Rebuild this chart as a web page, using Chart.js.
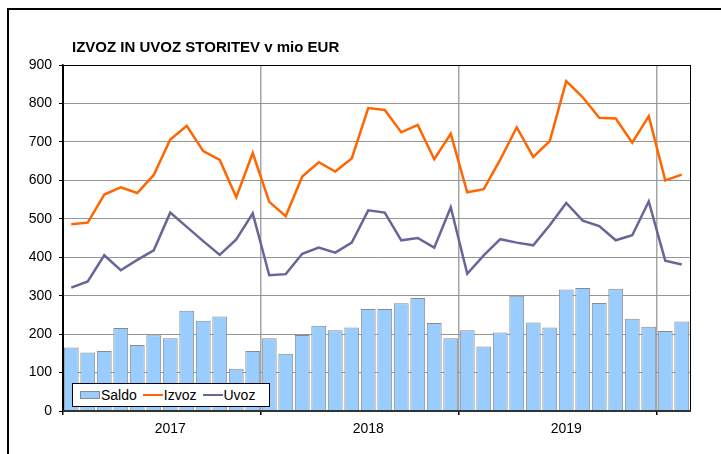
<!DOCTYPE html>
<html>
<head>
<meta charset="utf-8">
<script src="https://cdn.jsdelivr.net/npm/chart.js@4/dist/chart.umd.min.js"></script>
<style>
    body { margin: 0; background: #fff; font-family: "Liberation Sans", Arial, sans-serif; }
    #wrap { position: relative; width: 721px; height: 454px; overflow: hidden; }
    #frame { position: absolute; left: 7px; top: 8px; width: 800px; height: 600px; border: 2.5px solid #000; }
    #title { position: absolute; left: 72px; top: 38px; font-size: 15px; font-weight: bold; white-space: pre; }
    canvas { position: absolute; left: 0; top: 0; }
    #legend { position: absolute; left: 72px; top: 383px; width: 189px; height: 22px; border: 1px solid #000;
              background: #fff; display: flex; align-items: center; font-size: 14px; padding-left: 7px; box-sizing: content-box; }
    #legend .sw { display: inline-block; width: 20px; }
    #legend .tx { margin-left: 1px; margin-right: 6px; }
</style>
</head>
<body>
<div id="wrap">
    <div id="frame"></div>
    <canvas id="chart" width="721" height="454"></canvas>
    <div id="title">IZVOZ IN UVOZ STORITEV v mio EUR</div>
    <div id="legend"></div>
</div>
<script>
// month categories, Jan 2017 - Feb 2020
const months = [
    "2017-01", "2017-02", "2017-03", "2017-04", "2017-05", "2017-06",
    "2017-07", "2017-08", "2017-09", "2017-10", "2017-11", "2017-12",
    "2018-01", "2018-02", "2018-03", "2018-04", "2018-05", "2018-06",
    "2018-07", "2018-08", "2018-09", "2018-10", "2018-11", "2018-12",
    "2019-01", "2019-02", "2019-03", "2019-04", "2019-05", "2019-06",
    "2019-07", "2019-08", "2019-09", "2019-10", "2019-11", "2019-12",
    "2020-01", "2020-02"
];
const yearLabels = ["2017", "2018", "2019"];

const saldo = [165, 152, 156, 216, 172, 197, 189, 261, 235, 246, 110, 156,
               189, 149, 198, 222, 210, 217, 265, 265, 280, 294, 229, 189,
               210, 168, 204, 300, 230, 217, 316, 320, 281, 318, 240, 219,
               208, 233];
const izvoz = [486, 490, 563, 582, 567, 614, 706, 742, 676, 653, 556, 671,
               544, 507, 610, 647, 623, 657, 788, 783, 725, 744, 655, 721,
               569, 577, 654, 738, 661, 702, 858, 816, 763, 761, 698, 767,
               600, 615];
const uvoz = [321, 337, 405, 366, 393, 418, 516, 479, 442, 406, 446, 514,
              353, 356, 409, 425, 412, 438, 522, 516, 444, 450, 425, 530,
              357, 405, 447, 438, 431, 483, 541, 495, 481, 444, 457, 545,
              391, 381];

const seriesNames = ["Saldo", "Izvoz", "Uvoz"];
const yTicks = { min: 0, max: 900, step: 100 };

const font = { family: '"Liberation Sans", Arial, sans-serif', size: 14 };

// plot frame drawn over the chart area
const framePlugin = {
    id: "frame",
    afterDraw(chart) {
        const a = chart.chartArea;
        const ctx = chart.ctx;
        ctx.save();
        ctx.strokeStyle = "#000";
        ctx.lineWidth = 1;
        ctx.strokeRect(a.left + 0.5, a.top + 0.5, a.right - a.left, a.bottom - a.top);
        ctx.lineWidth = 2;
        ctx.strokeStyle = "#333";
        ctx.beginPath();
        ctx.moveTo(a.left, a.bottom);
        ctx.lineTo(a.right + 1, a.bottom);
        ctx.stroke();
        ctx.restore();
    }
};

const ctx = document.getElementById("chart").getContext("2d");
const chart = new Chart(ctx, {
    data: {
        labels: months,
        datasets: [
            {
                type: "bar",
                label: seriesNames[0],
                data: saldo,
                backgroundColor: "#99ccff",
                borderColor: "#8a8a8a",
                borderWidth: 1,
                barPercentage: 0.9,
                categoryPercentage: 1,
                order: 3
            },
            {
                type: "line",
                label: seriesNames[1],
                data: izvoz,
                borderColor: "#ff6600",
                borderWidth: 2.5,
                pointRadius: 0,
                tension: 0,
                order: 1
            },
            {
                type: "line",
                label: seriesNames[2],
                data: uvoz,
                borderColor: "#666699",
                borderWidth: 2.5,
                pointRadius: 0,
                tension: 0,
                order: 2
            }
        ]
    },
    options: {
        responsive: false,
        animation: false,
        devicePixelRatio: 1,
        layout: { padding: { left: 0, right: 31, top: 65, bottom: 0 } },
        plugins: {
            legend: { display: false },
            tooltip: { enabled: false }
        },
        scales: {
            x: {
                type: "category",
                offset: true,
                afterFit: scale => { scale.height = 43; },
                border: { display: false },
                grid: {
                    offset: true,
                    drawOnChartArea: true,
                    tickLength: 4,
                    lineWidth: 1.5,
                    color: c => (c.index > 0 && c.index % 12 === 0) ? "#a6a6a6" : "transparent",
                    tickColor: c => (c.index % 12 === 0) ? "#000" : "transparent"
                },
                ticks: {
                    autoSkip: false,
                    maxRotation: 0,
                    padding: 6,
                    color: "#000",
                    font: font,
                    callback: (v, i) => (i % 12 === 6) ? yearLabels[Math.floor(i / 12)] : ""
                }
            },
            y: {
                min: yTicks.min,
                max: yTicks.max,
                afterFit: scale => { scale.width = 63; },
                border: { display: true, color: "#000", width: 1.5 },
                grid: {
                    color: "#959595",
                    lineWidth: 1,
                    tickLength: 4,
                    tickColor: "#000"
                },
                ticks: {
                    stepSize: yTicks.step,
                    padding: 7,
                    color: "#000",
                    font: font
                }
            }
        }
    },
    plugins: [framePlugin]
});

// legend box inside the plot
const legend = document.getElementById("legend");
chart.data.datasets.forEach(ds => {
    const sw = document.createElement("span");
    sw.className = "sw";
    if (ds.type === "bar") {
        sw.style.height = "8px";
        sw.style.background = ds.backgroundColor;
        sw.style.border = "1px solid " + ds.borderColor;
        sw.style.boxSizing = "border-box";
    } else {
        sw.style.height = "2.5px";
        sw.style.background = ds.borderColor;
    }
    const tx = document.createElement("span");
    tx.className = "tx";
    tx.textContent = ds.label;
    legend.appendChild(sw);
    legend.appendChild(tx);
});
</script>
</body>
</html>
